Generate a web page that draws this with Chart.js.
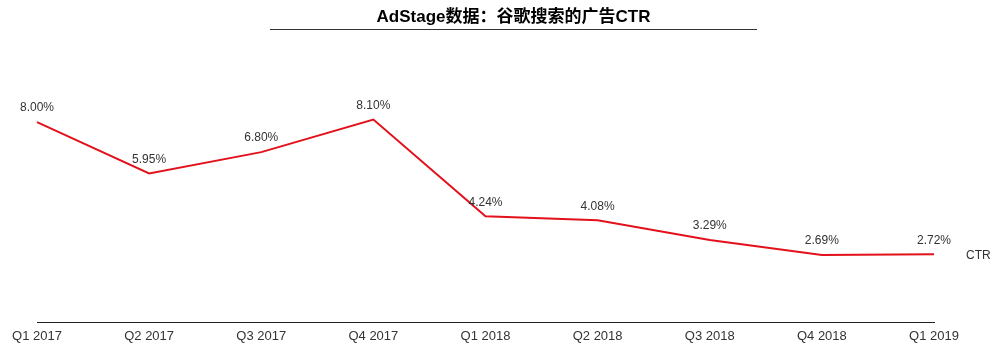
<!DOCTYPE html>
<html>
<head>
<meta charset="utf-8">
<script src="https://cdn.jsdelivr.net/npm/chart.js@4"></script>
<style>
  html, body { margin: 0; padding: 0; background: #fff; }
  #wrap { position: relative; width: 1000px; height: 351px; }
  #title {
    position: absolute; left: 270px; top: 7px; width: 487px;
    text-align: center; font: bold 17px "Liberation Sans", "Noto Sans CJK SC", sans-serif;
    color: #000; padding-bottom: 2px; border-bottom: 1px solid #333; line-height: 20px;
  }
</style>
</head>
<body>
<div id="wrap">
  <div id="title">AdStage数据：谷歌搜索的广告CTR</div>
  <canvas id="myChart" width="1000" height="351"></canvas>
</div>
<script>
// quarters
const quarters = ['Q1 2017', 'Q2 2017', 'Q3 2017', 'Q4 2017', 'Q1 2018', 'Q2 2018', 'Q3 2018', 'Q4 2018', 'Q1 2019'];
// CTR in %
const ctr = [8.00, 5.95, 6.80, 8.10, 4.24, 4.08, 3.29, 2.69, 2.72];
const seriesName = 'CTR';

// value labels above points + series name at the line end
const labelPlugin = {
  id: 'labels',
  afterDatasetsDraw(chart) {
    const ctx = chart.ctx;
    const meta = chart.getDatasetMeta(0);
    ctx.save();
    ctx.font = '12px "Liberation Sans", sans-serif';
    ctx.fillStyle = '#333';
    ctx.textAlign = 'center';
    ctx.textBaseline = 'bottom';
    meta.data.forEach((pt, i) => {
      ctx.fillText(ctr[i].toFixed(2) + '%', pt.x, pt.y - 8);
    });
    const last = meta.data[meta.data.length - 1];
    ctx.textAlign = 'left';
    ctx.textBaseline = 'middle';
    ctx.fillText(seriesName, last.x + 32, last.y + 1);
    ctx.restore();
  }
};

let myChart = document.getElementById('myChart').getContext('2d');

new Chart(myChart, {
  type: 'line',
  data: {
    labels: quarters,
    datasets: [{
      label: seriesName,
      data: ctr,
      borderColor: '#e3111b',
      borderWidth: 2,
      pointRadius: 0,
      tension: 0
    }]
  },
  options: {
    responsive: false,
    animation: false,
    layout: { padding: { left: 37, right: 66, top: 72, bottom: 1 } },
    plugins: {
      legend: { display: false },
      tooltip: { enabled: false }
    },
    scales: {
      x: {
        offset: false,
        grid: { display: false, drawTicks: false },
        border: { display: true, color: '#222', width: 1 },
        ticks: {
          padding: 6,
          color: '#333',
          font: { family: '"Liberation Sans", sans-serif', size: 13 },
          maxRotation: 0,
          autoSkip: false
        }
      },
      y: {
        display: false,
        min: 0,
        max: 10
      }
    }
  },
  plugins: [labelPlugin]
});
</script>
</body>
</html>
